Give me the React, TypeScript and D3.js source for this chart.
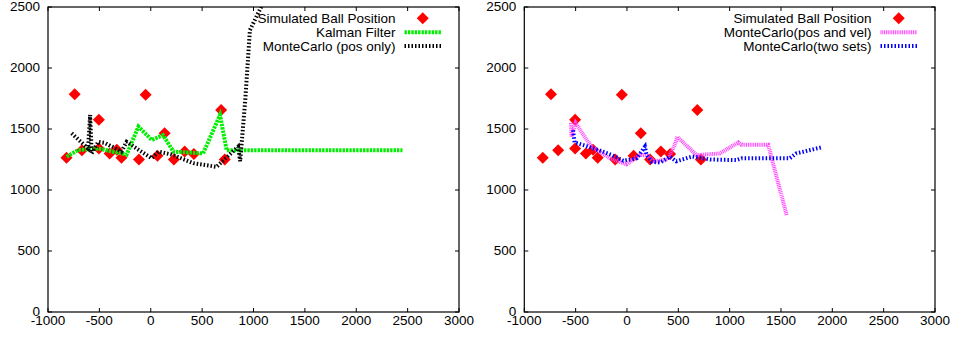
import React from 'react';
import * as d3 from 'd3';

// measured ball positions (same in both panels)
const ballX = [-820, -740, -670, -505, -505, -400, -330, -285, -115, -50, 65, 135, 225, 330, 420, 685, 720];
const ballY = [1265, 1785, 1325, 1575, 1340, 1300, 1330, 1265, 1250, 1780, 1280, 1465, 1250, 1315, 1295, 1655, 1250];

// left panel
const kalmanX = [-818, -705, -510, -285, -235, -120, 10, 120, 220, 510, 674, 739, 2450];
const kalmanY = [1273, 1328, 1340, 1300, 1290, 1520, 1410, 1450, 1315, 1300, 1615, 1325, 1325];
const mcPosX = [-770, -610, -590, -575, -510, -445, -285, -235, -120, 10, 75, 205, 415, 640, 850, 870, 920, 965, 1060, 1110];
const mcPosY = [1465, 1340, 1615, 1300, 1395, 1385, 1315, 1395, 1330, 1260, 1315, 1290, 1220, 1190, 1355, 1235, 1740, 2310, 2475, 2560];

// right panel
const mcVelX = [-545, -540, -500, -400, -345, -165, -5, 130, 200, 270, 400, 470, 490, 680, 905, 1085, 1115, 1375, 1555];
const mcVelY = [1550, 1440, 1550, 1420, 1355, 1260, 1210, 1290, 1280, 1235, 1250, 1380, 1435, 1285, 1300, 1390, 1370, 1370, 795];
const mcTwoX = [-525, -510, -395, -280, -150, -35, 95, 175, 190, 240, 320, 420, 480, 640, 810, 1065, 1120, 1585, 1650, 1895];
const mcTwoY = [1490, 1390, 1360, 1328, 1287, 1240, 1260, 1355, 1290, 1232, 1225, 1273, 1235, 1275, 1250, 1245, 1260, 1260, 1300, 1350];

const xTicks = [-1000, -500, 0, 500, 1000, 1500, 2000, 2500, 3000];
const yTicks = [0, 500, 1000, 1500, 2000, 2500];

const FONT = '"Liberation Sans", Arial, sans-serif';

interface Series {
  label: string;
  xs: number[];
  ys: number[];
  color: string;
  dash: string;
  width: number;
}

interface PanelProps {
  id: string;
  left: number;
  right: number;
  series: Series[];
}

const top = 7;
const bottom = 312;

const Diamond = ({ cx, cy }: { cx: number; cy: number }) => (
  <path d={`M${cx},${cy - 6}L${cx + 6},${cy}L${cx},${cy + 6}L${cx - 6},${cy}Z`} fill="#ff0000" />
);

const Panel = ({ id, left, right, series }: PanelProps) => {
  const x = d3.scaleLinear().domain([-1000, 3000]).range([left, right]);
  const y = d3.scaleLinear().domain([0, 2500]).range([bottom, top]);
  const line = d3.line<[number, number]>().x(d => x(d[0])).y(d => y(d[1]));
  const legendTextX = right - 63.5;
  const sampleX0 = right - 54.5;
  const sampleX1 = right - 18;
  const rows = [18.3, 32.3, 46];

  return (
    <g>
      <defs>
        <clipPath id={id}>
          <rect x={left} y={top} width={right - left} height={bottom - top} />
        </clipPath>
      </defs>

      {xTicks.map(t => (
        <g key={'x' + t}>
          <line x1={x(t)} x2={x(t)} y1={bottom} y2={bottom - 4} stroke="#000" />
          <line x1={x(t)} x2={x(t)} y1={top} y2={top + 4} stroke="#000" />
          <text x={x(t)} y={324.5} textAnchor="middle" fontSize={13.5} fontFamily={FONT}>{t}</text>
        </g>
      ))}
      {yTicks.map(t => (
        <g key={'y' + t}>
          <line x1={left} x2={left + 4} y1={y(t)} y2={y(t)} stroke="#000" />
          <line x1={right} x2={right - 4} y1={y(t)} y2={y(t)} stroke="#000" />
          <text x={left - 8} y={y(t) - 0.5} dy="0.35em" textAnchor="end" fontSize={13.5} fontFamily={FONT}>{t}</text>
        </g>
      ))}

      <g clipPath={`url(#${id})`}>
        {ballX.map((bx, i) => (
          <Diamond key={i} cx={x(bx)} cy={y(ballY[i])} />
        ))}
        {series.map(s => (
          <path
            key={s.label}
            d={line(s.xs.map((v, i) => [v, s.ys[i]] as [number, number])) || ''}
            fill="none"
            stroke={s.color}
            strokeWidth={s.width}
            strokeDasharray={s.dash}
          />
        ))}
      </g>

      <rect x={left} y={top} width={right - left} height={bottom - top} fill="none" stroke="#000" strokeWidth={1.2} />

      {/* legend */}
      <text x={legendTextX} y={rows[0]} dy="0.35em" textAnchor="end" fontSize={13.5} fontFamily={FONT}>Simulated Ball Position</text>
      <Diamond cx={(sampleX0 + sampleX1) / 2} cy={rows[0]} />
      {series.map((s, i) => (
        <g key={'lg' + s.label}>
          <text x={legendTextX} y={rows[i + 1]} dy="0.35em" textAnchor="end" fontSize={13.5} fontFamily={FONT}>{s.label}</text>
          <line x1={sampleX0} x2={sampleX1} y1={rows[i + 1]} y2={rows[i + 1]} stroke={s.color} strokeWidth={s.width} strokeDasharray={s.dash} />
        </g>
      ))}
    </g>
  );
};

export default function App() {
  const leftSeries: Series[] = [
    { label: 'Kalman Filter', xs: kalmanX, ys: kalmanY, color: '#00ee00', dash: '2.4,1', width: 4 },
    { label: 'MonteCarlo (pos only)', xs: mcPosX, ys: mcPosY, color: '#000000', dash: '1.5,2', width: 4 },
  ];
  const rightSeries: Series[] = [
    { label: 'MonteCarlo(pos and vel)', xs: mcVelX, ys: mcVelY, color: '#ff44ff', dash: '1,0.8', width: 4 },
    { label: 'MonteCarlo(two sets)', xs: mcTwoX, ys: mcTwoY, color: '#0000ff', dash: '1.5,2', width: 4 },
  ];
  return (
    <svg width={954} height={339} style={{ position: 'absolute', left: 0, top: 0, background: '#fff' }}>
      <Panel id="clipL" left={48} right={459} series={leftSeries} />
      <Panel id="clipR" left={524.3} right={935} series={rightSeries} />
    </svg>
  );
}
